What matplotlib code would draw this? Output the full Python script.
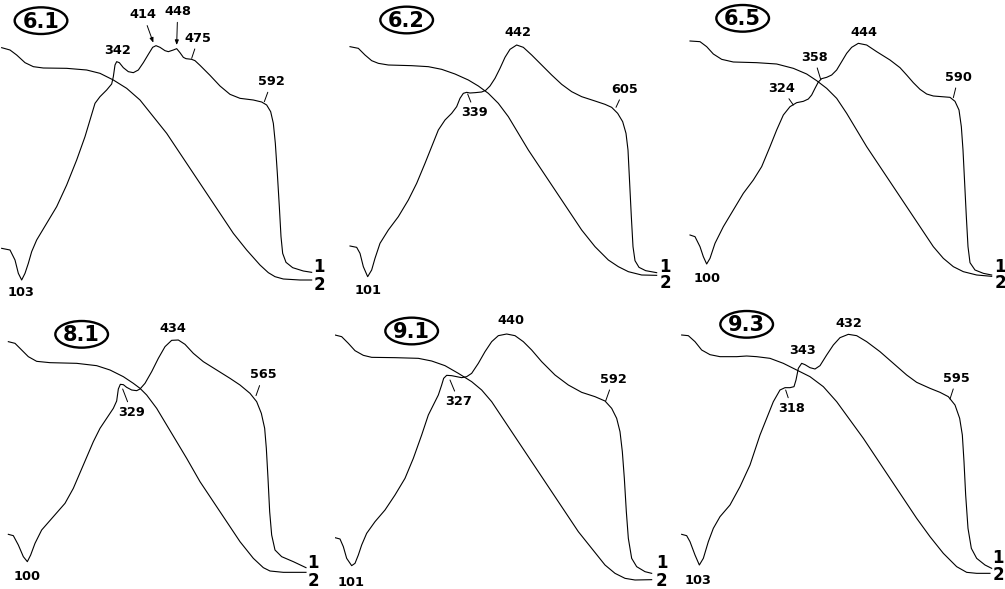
import matplotlib
matplotlib.use('Agg')
from matplotlib import pyplot as plt
from matplotlib.patches import Ellipse

# ------------------------------------------------------------------
# Dados (coordenadas locais de cada painel:
# x de 0 a 1005, y de 0 (topo) ate a altura do painel)
# ------------------------------------------------------------------
amostras = ['6.1', '6.2', '6.5', '8.1', '9.1', '9.3']

# curva 1 (DTA) e curva 2 (TG) de cada amostra
dta_61 = [(5, 745), (30, 750), (45, 780), (55, 820), (65, 840), (75, 820), (85, 790), (95, 755),
          (110, 720), (140, 670), (170, 620), (200, 555), (230, 480), (255, 410), (270, 360),
          (285, 310), (300, 290), (320, 270), (335, 252), (340, 230), (345, 195), (350, 185),
          (358, 188), (370, 203), (385, 215), (400, 218), (415, 210), (430, 188), (445, 163),
          (458, 142), (468, 137), (480, 142), (495, 152), (505, 155), (520, 150), (530, 146),
          (540, 158), (550, 172), (558, 176), (575, 178), (585, 182), (600, 196), (630, 226),
          (660, 258), (690, 283), (720, 295), (760, 300), (785, 306), (800, 315), (812, 335),
          (820, 370), (826, 430), (832, 520), (838, 620), (843, 710), (848, 760), (858, 787),
          (878, 803), (910, 813), (935, 817)]
tg_61 = [(5, 143), (30, 150), (50, 165), (75, 188), (100, 200), (130, 204), (200, 205), (260, 210),
         (300, 220), (340, 240), (380, 265), (420, 300), (460, 350), (500, 400), (540, 460),
         (580, 520), (620, 580), (660, 640), (700, 700), (740, 750), (780, 795), (805, 818),
         (825, 830), (850, 837), (900, 840), (935, 840)]
picos_61 = ['103', '342', '414', '448', '475', '592']

dta_62 = [(45, 738), (65, 742), (75, 760), (85, 800), (98, 830), (110, 810), (120, 775), (135, 730),
          (160, 690), (190, 650), (220, 600), (245, 550), (270, 490), (290, 440), (310, 390),
          (330, 360), (350, 340), (365, 320), (375, 295), (385, 280), (395, 277), (405, 279),
          (420, 278), (440, 276), (452, 271), (465, 258), (480, 235), (495, 205), (510, 172),
          (525, 148), (545, 135), (565, 142), (590, 165), (620, 195), (650, 225), (680, 253),
          (710, 275), (740, 290), (780, 303), (810, 313), (830, 322), (848, 340), (863, 365),
          (873, 400), (879, 450), (884, 550), (889, 650), (894, 740), (900, 782), (912, 802),
          (932, 812), (965, 818)]
tg_62 = [(45, 140), (70, 145), (90, 165), (110, 182), (130, 190), (160, 195), (230, 197),
         (280, 200), (320, 208), (360, 222), (400, 240), (430, 258), (460, 280), (490, 310),
         (520, 350), (550, 400), (580, 450), (620, 510), (660, 570), (700, 630), (740, 690),
         (780, 740), (820, 780), (850, 800), (880, 815), (920, 825), (965, 826)]
picos_62 = ['101', '339', '442', '605']

dta_65 = [(60, 705), (75, 710), (90, 740), (100, 770), (110, 792), (120, 775), (135, 730),
          (160, 680), (190, 630), (220, 580), (250, 540), (275, 500), (300, 440), (320, 390),
          (340, 345), (360, 320), (380, 308), (400, 304), (415, 297), (425, 285), (435, 265),
          (445, 246), (455, 236), (470, 232), (485, 225), (500, 210), (515, 185), (530, 160),
          (545, 142), (565, 130), (590, 135), (620, 155), (660, 180), (690, 203), (710, 225),
          (730, 248), (750, 268), (770, 282), (790, 288), (815, 290), (840, 292), (855, 304),
          (867, 330), (874, 380), (879, 450), (884, 550), (889, 650), (894, 740), (900, 788),
          (915, 810), (940, 820), (965, 825)]
tg_65 = [(60, 123), (90, 125), (110, 140), (130, 162), (155, 178), (190, 186), (260, 188),
         (320, 192), (370, 205), (410, 222), (440, 242), (470, 265), (500, 295), (530, 340),
         (560, 390), (590, 440), (630, 500), (670, 560), (710, 620), (750, 680), (790, 740),
         (820, 775), (850, 800), (880, 815), (920, 825), (965, 829)]
picos_65 = ['100', '324', '358', '444', '590']

dta_81 = [(25, 718), (40, 722), (55, 750), (70, 785), (82, 800), (92, 780), (105, 745), (125, 705),
          (160, 665), (195, 625), (220, 580), (250, 510), (280, 440), (300, 400), (320, 370),
          (340, 340), (350, 318), (355, 282), (361, 268), (370, 269), (380, 277), (395, 285),
          (410, 287), (420, 282), (435, 265), (455, 230), (475, 190), (495, 155), (515, 136),
          (535, 135), (555, 148), (580, 175), (610, 200), (650, 225), (690, 250), (720, 270),
          (750, 295), (770, 320), (784, 355), (794, 400), (799, 460), (804, 550), (809, 650),
          (815, 720), (825, 765), (845, 785), (880, 800), (918, 818)]
tg_81 = [(25, 140), (45, 145), (65, 165), (85, 185), (110, 199), (150, 203), (230, 205),
         (290, 212), (330, 225), (370, 245), (400, 265), (420, 280), (440, 300), (470, 340),
         (500, 390), (530, 440), (560, 490), (600, 560), (640, 620), (680, 680), (720, 740),
         (760, 790), (790, 818), (810, 828), (850, 832), (918, 832)]
picos_81 = ['100', '329', '434', '565']

dta_91 = [(0, 728), (15, 732), (25, 755), (35, 790), (50, 812), (60, 805), (70, 780), (80, 750),
          (95, 715), (120, 680), (150, 645), (180, 600), (210, 550), (235, 490), (260, 420),
          (270, 390), (280, 360), (295, 330), (310, 300), (320, 270), (326, 250), (335, 241),
          (350, 242), (365, 245), (380, 248), (395, 245), (410, 235), (430, 205), (450, 170),
          (470, 140), (490, 122), (515, 117), (540, 122), (565, 140), (590, 165), (620, 200),
          (660, 240), (700, 270), (740, 292), (780, 305), (810, 318), (830, 340), (845, 370),
          (855, 410), (862, 470), (868, 550), (874, 650), (880, 730), (890, 790), (905, 815),
          (930, 830), (950, 835)]
tg_91 = [(0, 120), (20, 125), (40, 145), (60, 167), (85, 181), (110, 187), (180, 188),
         (250, 190), (290, 198), (330, 212), (370, 235), (410, 260), (440, 285), (470, 320),
         (500, 365), (530, 410), (570, 470), (610, 530), (650, 590), (690, 650), (730, 710),
         (770, 760), (810, 810), (840, 835), (870, 850), (900, 855), (950, 854)]
picos_91 = ['101', '327', '440', '592']

dta_93 = [(35, 718), (50, 722), (60, 740), (75, 780), (88, 810), (100, 790), (115, 740),
          (130, 700), (150, 665), (180, 630), (210, 575), (240, 510), (270, 420), (290, 370),
          (310, 320), (330, 285), (345, 278), (360, 278), (372, 275), (378, 255), (385, 220),
          (395, 205), (405, 209), (420, 218), (435, 222), (450, 212), (470, 180), (490, 150),
          (510, 128), (535, 118), (560, 122), (590, 140), (630, 170), (670, 205), (710, 240),
          (740, 262), (780, 280), (810, 292), (835, 305), (855, 330), (869, 370), (877, 420),
          (882, 500), (887, 600), (894, 700), (904, 760), (920, 790), (945, 810), (965, 820)]
tg_93 = [(35, 120), (55, 122), (75, 140), (95, 165), (120, 179), (150, 185), (200, 185),
         (230, 183), (260, 185), (300, 190), (340, 205), (380, 225), (420, 245), (460, 275),
         (500, 320), (540, 375), (580, 430), (620, 490), (660, 550), (700, 610), (740, 670),
         (780, 725), (820, 775), (860, 815), (890, 832), (920, 835), (960, 835)]
picos_93 = ['103', '318', '343', '432', '595']

# ------------------------------------------------------------------
# Layout: posicao dos paineis (px da figura) e dos rotulos
# rotulo: (x texto, y texto, alvo do traco ou None, estilo)
# ------------------------------------------------------------------
W, H = 1005, 589
paineis = [(0, 0, 300), (335, 0, 300), (670, 0, 300),
           (0, 295, 294), (335, 295, 294), (670, 295, 294)]
curvas = [(dta_61, tg_61), (dta_62, tg_62), (dta_65, tg_65),
          (dta_81, tg_81), (dta_91, tg_91), (dta_93, tg_93)]
picos = [picos_61, picos_62, picos_65, picos_81, picos_91, picos_93]

pos_amostra = [(123, 62), (215, 60), (218, 55), (245, 118), (230, 108), (230, 88)]
pos_1 = [(958, 800), (990, 800), (990, 800), (940, 805), (980, 805), (985, 790)]
pos_2 = [(958, 855), (990, 848), (990, 850), (940, 858), (980, 857), (985, 840)]

pos_picos = [
    [(62, 878, None, '-'), (352, 150, None, '-'), (430, 45, (460, 128), '->'),
     (533, 35, (530, 135), '->'), (595, 115, (575, 175), '-'), (815, 245, (793, 305), '-')],
    [(100, 870, None, '-'), (420, 338, (398, 282), '-'), (548, 98, None, '-'),
     (868, 268, (843, 322), '-')],
    [(110, 837, None, '-'), (335, 265, (370, 315), '-'), (432, 172, (452, 238), '-'),
     (582, 98, None, '-'), (865, 232, (850, 293), '-')],
    [(82, 846, None, '-'), (395, 352, (368, 282), '-'), (518, 100, None, '-'),
     (790, 240, (768, 302), '-')],
    [(48, 862, None, '-'), (372, 320, (345, 255), '-'), (528, 78, None, '-'),
     (835, 253, (812, 318), '-')],
    [(85, 858, None, '-'), (365, 340, (347, 285), '-'), (398, 168, None, '-'),
     (537, 85, None, '-'), (860, 250, (840, 312), '-')],
]

plt.rcParams['font.family'] = ['DejaVu Sans']
plt.rcParams['font.weight'] = 'bold'
fig = plt.figure(figsize=(W / 100, H / 100), dpi=100)

for i in range(6):
    ox, oy, ph = paineis[i]
    ax = fig.add_axes([ox / W, 1 - (oy + ph) / H, 335 / W, ph / H])
    ax.set_xlim(0, 1005)
    ax.set_ylim(ph * 3, 0)
    ax.set_axis_off()
    ax.patch.set_alpha(0)

    dta, tg = curvas[i]
    ax.plot([p[0] for p in tg], [p[1] for p in tg], color='black', lw=0.8)
    ax.plot([p[0] for p in dta], [p[1] for p in dta], color='black', lw=0.8)

    for txt, (tx, ty, alvo, estilo) in zip(picos[i], pos_picos[i]):
        if alvo is None:
            ax.text(tx, ty, txt, ha='center', va='center', fontsize=9.3, fontweight='bold')
        else:
            seta = '-' if estilo == '-' else '-|>,head_length=0.3,head_width=0.12'
            ax.annotate(txt, xy=alvo, xytext=(tx, ty), ha='center', va='center',
                        fontsize=9.3, fontweight='bold',
                        arrowprops=dict(arrowstyle=seta, color='black', lw=0.7,
                                        shrinkA=1, shrinkB=0))

    ax.text(pos_1[i][0], pos_1[i][1], '1', ha='center', va='center', fontsize=12, fontweight='bold')
    ax.text(pos_2[i][0], pos_2[i][1], '2', ha='center', va='center', fontsize=12, fontweight='bold')

    # rotulo da amostra dentro de uma elipse
    ax.add_patch(Ellipse(pos_amostra[i], 158, 80, fc='white', ec='black', lw=1.7, zorder=3))
    ax.text(pos_amostra[i][0], pos_amostra[i][1] + 3, amostras[i], ha='center', va='center',
            fontsize=15, fontweight='bold', zorder=4)

fig.savefig('out.png', dpi=100)
